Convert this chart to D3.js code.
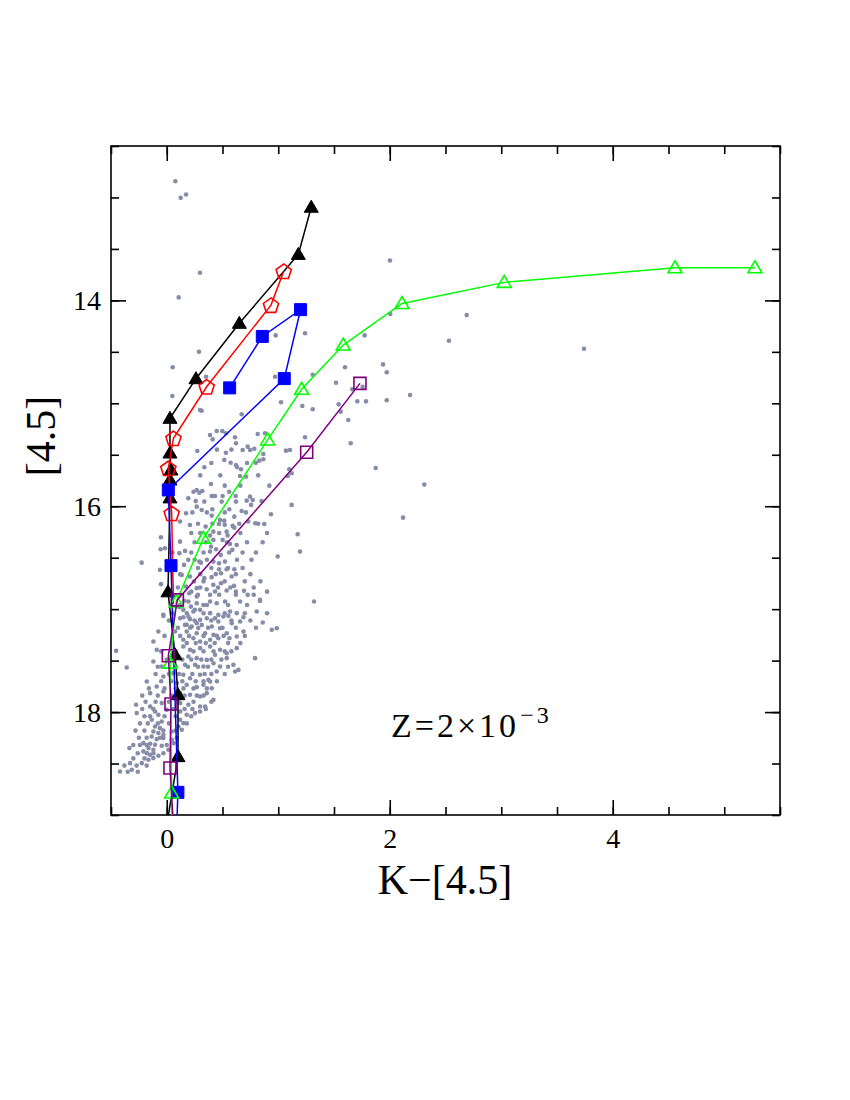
<!DOCTYPE html>
<meta charset="utf-8">
<script src="https://cdn.jsdelivr.net/npm/d3@7"></script>
<style>
body { margin: 0; background: #fff; }
text { font-family: "Liberation Serif", "Times New Roman", serif; fill: #000; }
.frame { fill: none; stroke: #000; stroke-width: 1.6px; }
.tick line { stroke: #000; stroke-width: 1.6px; }
.tick text { font-family: "Liberation Serif", serif; font-size: 28px; }
.track { fill: none; stroke-width: 1.5px; }
.star { fill: #878ca8; }
</style>
<body>
<script>

// field stars: [K-[4.5], [4.5]]
var stars = [
  [0.077,12.842],[0.125,13.004],[0.173,12.971],[0.298,13.732],[0.107,13.971],[0.977,14.34],[1.24,14.32],
  [0.289,14.499],[0.053,14.65],[0.352,14.742],[0.971,14.742],[1.309,14.722],[1.518,14.8],[1.599,14.65],
  [2.002,13.612],[2.005,14.133],[1.775,14.34],[2.69,14.143],[2.531,14.392],[3.742,14.47],[1.94,14.622],
  [1.973,14.699],[1.664,14.864],[1.757,14.839],[1.542,15.01],[1.709,14.981],[1.787,14.981],[1.973,14.971],
  [2.182,14.919],[1.56,15.081],[1.628,15.162],[1.65,15.388],[1.874,15.628],[2.31,15.79],[2.119,16.111],
  [1.321,16.926],
  [1.025,14.99],[1.216,15.026],[1.309,15.058],[0.313,15.072],[0.672,15.107],[0.388,15.308],[0.448,15.269],
  [0.498,15.269],[0.531,15.291],[0.412,15.35],[0.612,15.33],[0.816,15.298],[0.881,15.291],[0.621,15.388],
  [0.726,15.421],[0.785,15.441],[0.681,15.453],[0.747,15.453],[0.531,15.48],[0.866,15.492],[1.069,15.46],
  [1.105,15.453],[1.24,15.33],[0.516,15.55],[0.573,15.577],[0.621,15.599],[0.63,15.62],[0.666,15.641],
  [0.8,15.577],[0.83,15.557],[0.866,15.544],[0.337,15.621],[1.099,15.641],[1.12,15.68],[1.085,15.706],
  [0.657,15.706],[0.711,15.712],[0.397,15.784],[0.319,15.852],[0.403,15.9],[0.433,15.9],[0.501,15.9],
  [0.618,15.9],[0.747,15.907],[0.717,15.946],[0.771,15.939],[0.337,15.955],[0.493,15.955],[0.621,15.955],
  [0.756,15.987],[1.12,15.987],[0.409,16.029],[0.561,16.029],[0.672,16.046],[0.935,16.078],[0.313,16.036],
  [0.403,16.091],[0.606,16.101],[0.478,16.133],[0.516,16.14],[0.469,16.172],[0.52,16.18],[0.591,16.191],
  [0.794,16.165],[0.875,16.172],[0.731,16.149],[0.349,16.198],[0.606,16.208],[0.418,16.247],[0.537,16.247],
  [0.546,16.285],[0.388,16.285],[0.418,16.327],[0.501,16.327],[0.567,16.366],[0.627,16.376],[0.397,16.392],
  [0.442,16.418],[0.588,16.424],[0.388,16.441],[0.484,16.473],[1.174,16.272],[1.195,16.441],[0.995,16.489],
  [0.307,16.548],[0.418,16.538],[0.469,16.554],[0.522,16.538],[0.537,16.612],[0.606,16.612],[0.469,16.612],
  [0.487,16.651],[0.337,16.699],[0.403,16.689],[0.582,16.683],[0.418,16.764],[0.487,16.748],[0.603,16.774],
  [0.358,16.806],[0.388,16.861],[0.433,16.829],[0.537,16.819],[0.693,16.822],[0.726,16.861],[0.836,16.91],
  [0.05,14.929],[0.298,15.065],[0.274,15.463],[0.269,15.842],[0.292,15.868],[0.193,15.922],[0.269,16.004],
  [0.173,16.068],[0.208,16.182],[0.119,16.149],[-0.052,16.301],[0.119,16.344],[-0.016,16.408],[-0.055,16.418],
  [0.113,16.456],[0.164,16.434],[0.193,16.521],[0.292,16.538],[-0.225,16.548],[0.155,16.57],[-0.061,16.618],
  [0.134,16.667],[0.208,16.683],[0.244,16.732],[-0.052,16.757],[0.173,16.78],[0.269,16.796],[0.202,16.845],
  [0.269,16.877],[0.157,16.919],[0.217,16.975],[0.253,17.007],[0.113,16.981],[-0.031,17.055],[0.149,17.078],
  [0.208,17.097],[0.179,17.152],[0.269,17.136],[0.283,17.184],
  [0.194,16.926],[0.269,16.942],[0.329,16.959],[0.389,16.926],[0.448,16.942],[0.523,16.926],[0.658,16.926],
  [0.837,16.92],[0.149,17.007],[0.239,17.023],[0.299,17.007],[0.389,17.039],[0.463,17.056],[0.568,17.023],
  [0.628,17.039],[0.807,17.023],[-0.03,17.065],[0.12,17.088],[0.194,17.072],[0.299,17.104],[0.359,17.088],
  [0.433,17.088],[0.463,17.12],[0.508,17.072],[0.553,17.065],[0.688,17.078],[0.861,17.13],[0.164,17.153],
  [0.224,17.169],[0.314,17.153],[0.404,17.169],[0.478,17.185],[0.583,17.137],[0.658,17.12],[-0.075,17.217],
  [0.075,17.217],[0.179,17.217],[0.269,17.234],[0.344,17.234],[0.419,17.25],[0.538,17.234],[0.688,17.217],
  [0.942,17.201],[0.987,17.185],[-0.12,17.315],[0.149,17.298],[0.239,17.282],[0.299,17.315],[0.389,17.298],
  [0.463,17.282],[0.562,17.282],[0.628,17.266],[-0.454,17.405],[-0.09,17.395],[0.149,17.363],[0.209,17.395],
  [0.299,17.379],[0.389,17.363],[0.478,17.395],[0.628,17.379],[0.538,17.428],[-0.359,17.567],[0.105,17.46],
  [0.194,17.46],[0.269,17.476],[0.359,17.493],[0.433,17.444],[0.538,17.476],[0.792,17.476],[0.598,17.541],
  [0.643,17.59],[-0.12,17.509],[-0.045,17.557],[0.164,17.541],[0.254,17.541],[0.329,17.557],[0.419,17.525],
  [0.478,17.557],[-0.179,17.703],[-0.03,17.654],[0.06,17.622],[0.149,17.638],[0.209,17.671],[0.299,17.638],
  [0.374,17.687],[0.448,17.606],[0.613,17.606],[-0.09,17.751],[0.09,17.719],[0.179,17.735],[0.269,17.758],
  [0.329,17.735],[0.404,17.768],[0.389,17.703],[-0.149,17.816],[-0.03,17.8],[0.12,17.816],[0.209,17.832],
  [0.299,17.849],[0.359,17.816],[0.419,17.881],[-0.275,17.929],[-0.149,17.946],[-0.045,17.913],[0.12,17.913],
  [0.194,17.929],[0.299,17.946],[0.344,17.946],[-0.269,18.01],[-0.105,17.994],[-0.075,18.026],[0.0,17.978],
  [0.12,17.994],[0.179,18.026],[0.254,18.01],[0.299,17.994],[-0.135,18.075],[-0.045,18.091],[0.12,18.075],
  [0.149,18.107],[-0.105,18.14],[-0.06,18.156],[0.105,18.14],[0.135,18.172],[0.045,18.188],[-0.12,18.188],
  [-0.075,18.204],[-0.03,18.221],[-0.135,18.237],[-0.09,18.263],[-0.03,18.253],[0.045,18.269],[-0.209,18.302],
  [-0.149,18.308],[-0.105,18.318],[-0.045,18.327],[0.06,18.302],[-0.164,18.35],[-0.12,18.366],[-0.209,18.382],
  [0.015,18.366],[-0.335,18.35],[-0.179,18.399],[-0.149,18.415],[-0.075,18.425],[-0.224,18.496],[-0.329,18.496],
  [-0.314,18.561],[-0.419,18.577],[-0.164,18.463],[-0.12,18.447]
];

// denser core of the cloud, read row by row
var starsCore = [
  [0.45,15.45],[0.58,15.45],[0.40,15.58],[0.72,15.58],[0.30,15.70],[0.48,15.70],[0.82,15.70],
  [0.52,15.80],[0.66,15.80],[0.92,15.80],[0.24,15.86],[0.56,15.86],[0.26,15.95],[0.85,15.95],
  [0.23,16.06],[0.36,16.06],[0.52,16.06],[0.71,16.06],[0.28,16.17],[0.41,16.17],[0.65,16.17],[0.82,16.17],
  [0.22,16.26],[0.30,16.26],[0.47,16.26],[0.66,16.26],[0.90,16.26],[0.25,16.35],[0.35,16.35],[0.54,16.35],
  [0.72,16.35],[0.86,16.35],[0.05,16.45],[0.22,16.45],[0.33,16.45],[0.56,16.45],[0.68,16.45],[0.80,16.45],
  [0.25,16.52],[0.36,16.52],[0.63,16.52],[0.76,16.52],[0.03,16.60],[0.28,16.60],[0.40,16.60],[0.55,16.60],
  [0.68,16.60],[0.12,16.66],[0.30,16.66],[0.44,16.66],[0.62,16.66],[0.75,16.66],[0.33,16.73],[0.52,16.73],
  [0.70,16.73],[0.84,16.73],[0.10,16.79],[0.30,16.79],[0.46,16.79],[0.57,16.79],[0.78,16.79],[0.22,16.83],
  [0.62,16.83],[0.90,16.83],
  [0.28,16.86],[0.47,16.86],[0.62,16.86],[0.78,16.86],[0.12,16.96],[0.36,16.96],[0.55,16.96],[0.72,16.96],
  [0.05,17.04],[0.18,17.04],[0.33,17.04],[0.52,17.04],[0.70,17.04],[0.90,17.04],[0.02,17.11],[0.25,17.11],
  [0.40,17.11],[0.58,17.11],[0.75,17.11],[0.10,17.18],[0.21,17.18],[0.37,17.18],[0.50,17.18],[0.62,17.18],
  [0.80,17.18],[-0.02,17.26],[0.12,17.26],[0.20,17.26],[0.33,17.26],[0.45,17.26],[0.51,17.26],[0.70,17.26],
  [0.05,17.33],[0.18,17.33],[0.26,17.33],[0.35,17.33],[0.43,17.33],[0.55,17.33],[0.66,17.33],[-0.05,17.41],
  [0.08,17.41],[0.24,17.41],[0.33,17.41],[0.42,17.41],[0.52,17.41],[0.58,17.41],[0.00,17.49],[0.14,17.49],
  [0.22,17.49],[0.31,17.49],[0.40,17.49],[0.49,17.49],[-0.08,17.56],[0.08,17.56],[0.19,17.56],[0.28,17.56],
  [0.37,17.56],[0.55,17.56],[-0.10,17.63],[0.02,17.63],[0.11,17.63],[0.23,17.63],[0.34,17.63],[0.40,17.63],
  [0.52,17.63],[-0.05,17.70],[0.04,17.70],[0.14,17.70],[0.26,17.70],[0.33,17.70],[0.45,17.70],[-0.16,17.77],
  [-0.02,17.77],[0.08,17.77],[0.15,17.77],[0.24,17.77],[0.36,17.77],[-0.22,17.84],[-0.08,17.84],[0.04,17.84],
  [0.16,17.84],[0.27,17.84],[0.33,17.84],[-0.19,17.90],[-0.10,17.90],[0.02,17.90],[0.10,17.90],[0.24,17.90],
  [0.40,17.90],[-0.22,17.97],[-0.12,17.97],[0.06,17.97],[0.16,17.97],[0.23,17.97],[0.35,17.97],[-0.20,18.04],
  [-0.15,18.04],[-0.02,18.04],[0.08,18.04],[0.22,18.04],[-0.24,18.11],[-0.17,18.11],[-0.08,18.11],[0.02,18.11],
  [0.18,18.11],[-0.28,18.18],[-0.20,18.18],[-0.03,18.18],[0.08,18.18],[-0.25,18.25],[-0.18,18.25],[-0.06,18.25],
  [0.09,18.25],[-0.30,18.32],[-0.24,18.32],[-0.18,18.32],[0.00,18.32],[-0.26,18.40],[-0.12,18.40],[-0.03,18.40],
  [-0.30,18.45],[-0.20,18.45],[-0.27,18.52],[-0.18,18.52],[-0.38,18.52],[-0.35,18.58],[-0.26,18.58]
];

// model sequences, K-[4.5] and [4.5]
var blackK = [1.296, 1.18, 0.651, 0.262, 0.029, 0.029, 0.038, 0.029, 0.029, 0.011, 0.074, 0.101, 0.101];
var blackM = [13.095, 13.553, 14.223, 14.761, 15.146, 15.483, 15.648, 15.745, 15.919, 16.832, 17.443, 17.831, 18.433];
var blackTail = [[0.0, 19.1]];

var redK = [1.049, 0.935, 0.358, 0.06, 0.014, 0.044];
var redM = [13.716, 14.046, 14.839, 15.34, 15.631, 16.068];
var redTail = [[0.06, 16.95]];

var blueK = [0.564, 0.857, 1.2, 1.054, 0.014, 0.038, 0.1];
var blueM = [14.85, 14.35, 14.09, 14.76, 15.842, 16.577, 18.78];
var blueTail = [[0.09, 19.1]];

var greenK = [5.275, 4.558, 3.027, 2.11, 1.583, 1.21, 0.905, 0.328, 0.085, 0.029, 0.044];
var greenM = [13.683, 13.683, 13.825, 14.03, 14.434, 14.864, 15.356, 16.311, 16.93, 17.524, 18.786];
var greenTail = [[0.044, 19.1]];

var purpleK = [1.733, 1.255, 0.095, 0.014, 0.038, 0.029];
var purpleM = [14.806, 15.476, 16.91, 17.453, 17.922, 18.544];
var purpleTail = [[0.06, 19.1]];

var xTicksMajor = [0, 2, 4];
var yTicksMajor = [14, 16, 18];

var width = 850,
    height = 1100;

var x = d3.scaleLinear().domain([-0.5, 5.5]).range([111, 780]);
var y = d3.scaleLinear().domain([12.5, 19]).range([146, 815]);

var svg = d3.select("body").append("svg")
    .attr("width", width)
    .attr("height", height);

svg.append("defs").append("clipPath").attr("id", "box")
  .append("rect")
    .attr("x", x(-0.5)).attr("y", y(12.5))
    .attr("width", x(5.5) - x(-0.5)).attr("height", y(19) - y(12.5));

var minorX = d3.range(-0.5, 5.51, 0.5),
    minorY = d3.range(12.5, 19.01, 0.5);

// axes, ticks point inward
function noDomain(g) {
  g.select(".domain").remove();
  g.attr("font-family", null).attr("font-size", null);
}

svg.append("g").attr("transform", "translate(0," + y(19) + ")")
  .call(d3.axisBottom(x).tickValues(minorX).tickSize(-8).tickFormat("")).call(noDomain);
svg.append("g").attr("transform", "translate(0," + y(19) + ")")
  .call(d3.axisBottom(x).tickValues(xTicksMajor).tickSize(-15).tickPadding(13).tickFormat(d3.format("d")))
  .call(noDomain);

svg.append("g").attr("transform", "translate(0," + y(12.5) + ")")
  .call(d3.axisTop(x).tickValues(minorX).tickSize(-8).tickFormat("")).call(noDomain);
svg.append("g").attr("transform", "translate(0," + y(12.5) + ")")
  .call(d3.axisTop(x).tickValues(xTicksMajor).tickSize(-15).tickFormat("")).call(noDomain);

svg.append("g").attr("transform", "translate(" + x(-0.5) + ",0)")
  .call(d3.axisLeft(y).tickValues(minorY).tickSize(-8).tickFormat("")).call(noDomain);
svg.append("g").attr("transform", "translate(" + x(-0.5) + ",0)")
  .call(d3.axisLeft(y).tickValues(yTicksMajor).tickSize(-15).tickPadding(10).tickFormat(d3.format("d")))
  .call(noDomain);

svg.append("g").attr("transform", "translate(" + x(5.5) + ",0)")
  .call(d3.axisRight(y).tickValues(minorY).tickSize(-8).tickFormat("")).call(noDomain);
svg.append("g").attr("transform", "translate(" + x(5.5) + ",0)")
  .call(d3.axisRight(y).tickValues(yTicksMajor).tickSize(-15).tickFormat("")).call(noDomain);

svg.append("rect").attr("class", "frame")
  .attr("x", x(-0.5)).attr("y", y(12.5))
  .attr("width", x(5.5) - x(-0.5)).attr("height", y(19) - y(12.5));

var plot = svg.append("g").attr("clip-path", "url(#box)");

// stars
plot.append("g").selectAll("circle")
  .data(stars.concat(starsCore))
  .enter().append("circle")
    .attr("class", "star")
    .attr("cx", function(d) { return x(d[0]); })
    .attr("cy", function(d) { return y(d[1]); })
    .attr("r", 2.3);

// marker shapes
function shape(kind) {
  if (kind == "tri") return "M0,-7L7,5L-7,5Z";
  if (kind == "sq") return "M-6,-6H6V6H-6Z";
  if (kind == "pent") {
    var p = [];
    for (var i = 0; i < 5; i++) {
      var a = -Math.PI / 2 + i * 2 * Math.PI / 5;
      p.push([8 * Math.cos(a), 8 * Math.sin(a) + 0.8]);
    }
    return "M" + p.join("L") + "Z";
  }
}

var tracks = [
  {k: blackK, m: blackM, tail: blackTail, color: "#000000", kind: "tri", fill: true},
  {k: redK, m: redM, tail: redTail, color: "#ff0000", kind: "pent", fill: false},
  {k: blueK, m: blueM, tail: blueTail, color: "#0000ff", kind: "sq", fill: true},
  {k: greenK, m: greenM, tail: greenTail, color: "#00ff00", kind: "tri", fill: false},
  {k: purpleK, m: purpleM, tail: purpleTail, color: "#800080", kind: "sq", fill: false}
];

var line = d3.line()
  .x(function(d) { return x(d[0]); })
  .y(function(d) { return y(d[1]); });

tracks.forEach(function(t) {
  var pts = t.k.map(function(v, i) { return [v, t.m[i]]; });

  plot.append("path")
    .attr("class", "track")
    .attr("d", line(pts.concat(t.tail)))
    .style("stroke", t.color);

  plot.append("g").selectAll("path")
    .data(pts)
    .enter().append("path")
      .attr("d", shape(t.kind))
      .attr("transform", function(d) { return "translate(" + x(d[0]) + "," + y(d[1]) + ")"; })
      .style("fill", t.fill ? t.color : "none")
      .style("stroke", t.color)
      .style("stroke-width", t.fill ? 1 : 1.6);
});

// labels
svg.append("text")
  .attr("x", 445).attr("y", 894)
  .style("text-anchor", "middle")
  .style("font-size", "42px")
  .text("K\u2212[4.5]");

svg.append("text")
  .attr("transform", "translate(55,436) rotate(-90)")
  .style("text-anchor", "middle")
  .style("font-size", "42px")
  .text("[4.5]");

var z = svg.append("text")
  .attr("x", 391).attr("y", 737)
  .style("font-size", "34px")
  .style("letter-spacing", "3px");
z.append("tspan").text("Z=2\u00d710");
z.append("tspan").attr("dy", -14).attr("dx", 1).style("font-size", "24px").text("\u22123");

</script>
</body>
